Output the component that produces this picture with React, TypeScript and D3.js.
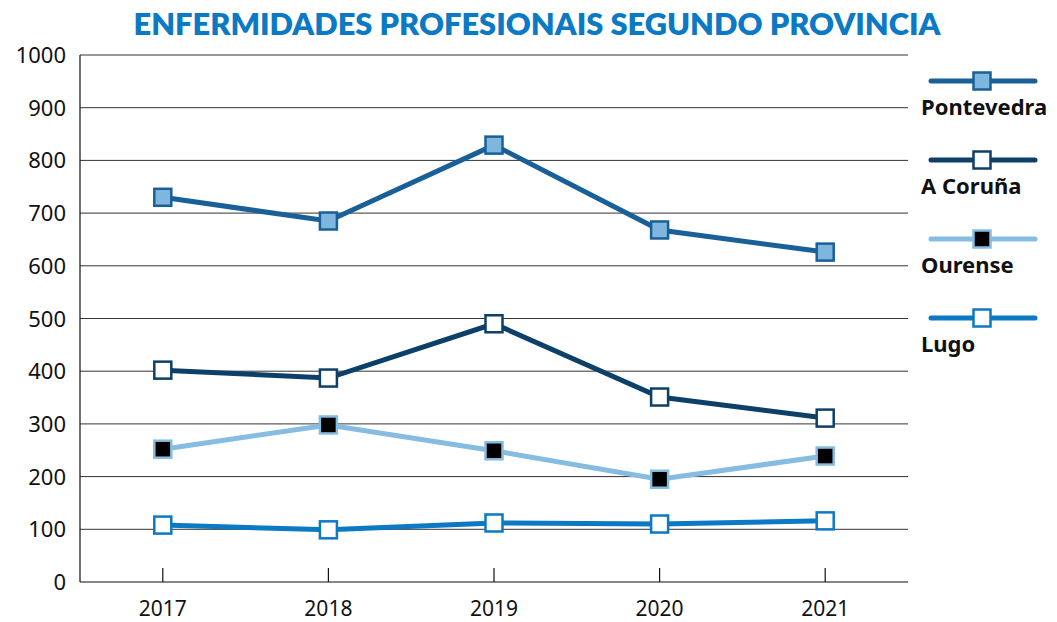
import React from "react";
import * as d3 from "d3";

// data
const years = ["2017", "2018", "2019", "2020", "2021"];
const pontevedra = [730, 685, 829, 668, 626];
const aCoruna = [402, 387, 490, 351, 311];
const ourense = [252, 298, 249, 195, 239];
const lugo = [108, 99, 112, 110, 116];
const yTicks = [0, 100, 200, 300, 400, 500, 600, 700, 800, 900, 1000];

const series = [
  { name: "Pontevedra", values: pontevedra, line: "#1a6098", fill: "#7fb6dd", stroke: "#1a6098" },
  { name: "A Coruña", values: aCoruna, line: "#0d4068", fill: "#ffffff", stroke: "#0d4068" },
  { name: "Ourense", values: ourense, line: "#86bce1", fill: "#000000", stroke: "#86bce1" },
  { name: "Lugo", values: lugo, line: "#0b79c3", fill: "#ffffff", stroke: "#0b79c3" },
];

const W = 1057;
const H = 622;
const m = { left: 80, right: 908, top: 55, bottom: 582 };
const font = "'Noto Sans', sans-serif";

const App = () => {
  const x = d3.scaleBand().domain(years).range([m.left, m.right]);
  const y = d3.scaleLinear().domain([0, 1000]).range([m.bottom, m.top]);
  const cx = (yr: string) => (x(yr) as number) + x.bandwidth() / 2;

  const lineGen = d3
    .line<number>()
    .x((_, i) => cx(years[i]))
    .y((d) => y(d));

  const sq = 17; // marker size

  return (
    <svg width={W} height={H} style={{ position: "absolute", left: 0, top: 0, background: "#fff" }}>
      {/* title */}
      <text
        x={537}
        y={35}
        textAnchor="middle"
        fontFamily="Lato, sans-serif"
        fontWeight={800}
        fontSize={31}
        fill="#0b79c3"
        textLength={807}
        lengthAdjust="spacingAndGlyphs"
      >
        ENFERMIDADES PROFESIONAIS SEGUNDO PROVINCIA
      </text>

      {/* gridlines + y labels */}
      {yTicks.map((t) => (
        <g key={t}>
          {t > 0 && (
            <line x1={m.left} x2={m.right} y1={y(t)} y2={y(t)} stroke="#333" strokeWidth={1} />
          )}
          <text
            x={66}
            y={y(t) + 8}
            textAnchor="end"
            fontFamily={font}
            fontSize={22}
            fill="#111"
          >
            {t}
          </text>
        </g>
      ))}

      {/* axes */}
      <line x1={m.left} x2={m.left} y1={m.top} y2={m.bottom} stroke="#111" strokeWidth={1.2} />
      <line x1={m.left} x2={m.right} y1={m.bottom} y2={m.bottom} stroke="#111" strokeWidth={1.2} />
      {years.map((yr) => (
        <g key={yr}>
          <line x1={cx(yr)} x2={cx(yr)} y1={m.bottom - 14} y2={m.bottom} stroke="#111" strokeWidth={1.2} />
          <text x={cx(yr)} y={616} textAnchor="middle" fontFamily={font} fontSize={21} fill="#111">
            {yr}
          </text>
        </g>
      ))}

      {/* series */}
      {series.map((s) => (
        <g key={s.name}>
          <path d={lineGen(s.values) || ""} fill="none" stroke={s.line} strokeWidth={5} />
          {s.values.map((v, i) => (
            <rect
              key={i}
              x={cx(years[i]) - sq / 2}
              y={y(v) - sq / 2}
              width={sq}
              height={sq}
              fill={s.fill}
              stroke={s.stroke}
              strokeWidth={2.5}
            />
          ))}
        </g>
      ))}

      {/* legend */}
      {series.map((s, i) => {
        const ly = 81 + i * 79;
        return (
          <g key={s.name}>
            <line x1={931} x2={1035} y1={ly} y2={ly} stroke={s.line} strokeWidth={5} strokeLinecap="round" />
            <rect x={982 - sq / 2} y={ly - sq / 2} width={sq} height={sq} fill={s.fill} stroke={s.stroke} strokeWidth={2.5} />
            <text x={921} y={ly + 34} fontFamily={font} fontWeight={700} fontSize={22} fill="#111">
              {s.name}
            </text>
          </g>
        );
      })}
    </svg>
  );
};

export default App;
